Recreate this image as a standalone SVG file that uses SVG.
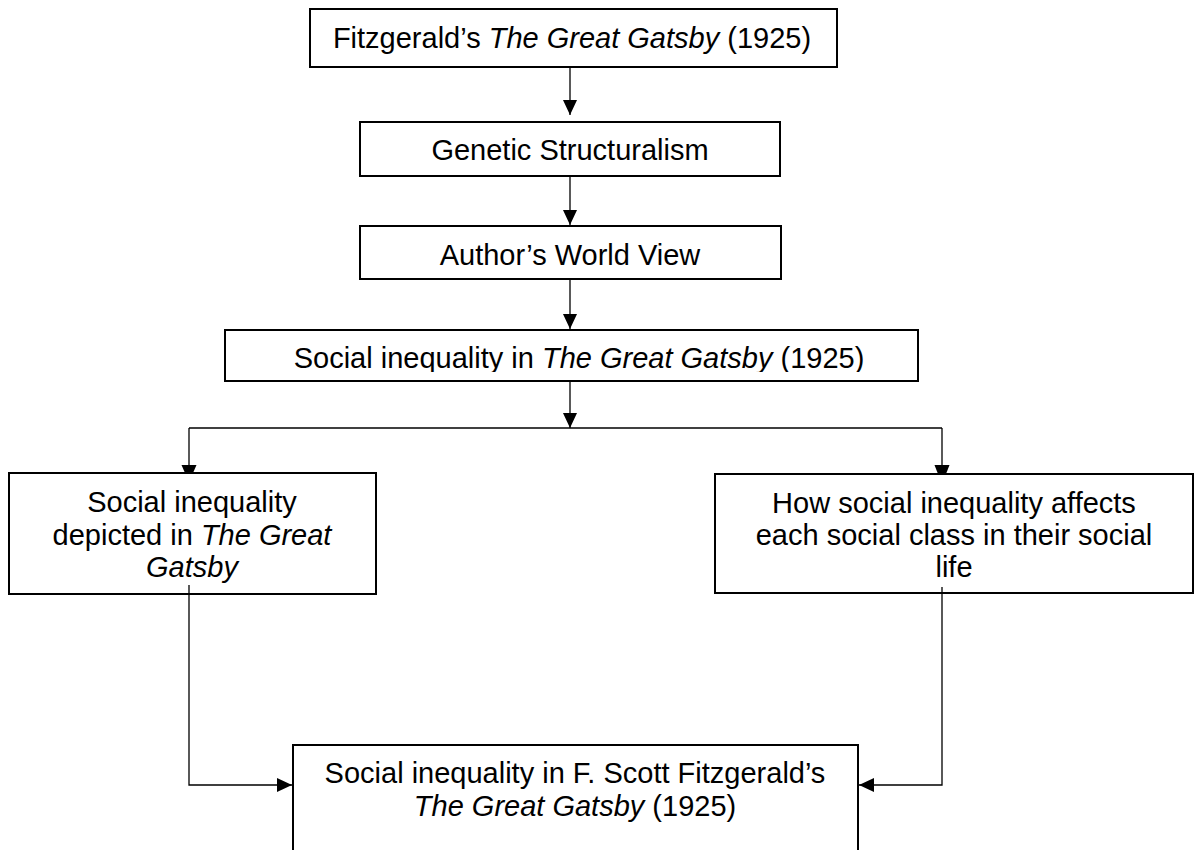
<svg xmlns="http://www.w3.org/2000/svg" width="1197" height="850" viewBox="0 0 1197 850">
  <style>
    .box { fill: #ffffff; stroke: #000000; stroke-width: 2; }
    .t { font-family: "Liberation Sans", Arial, sans-serif; font-size: 29px; fill: #000000; text-anchor: middle; }
    .i { font-style: italic; }
    .ln { fill: none; stroke: #000000; stroke-width: 1.3; }
    .head { fill: #000000; stroke: none; }
  </style>
  <defs>
    <marker id="arr" markerUnits="userSpaceOnUse" markerWidth="15" markerHeight="14" refX="15" refY="7" orient="auto">
      <path d="M0,0 L15,7 L0,14 z" fill="#000000"/>
    </marker>
    <clipPath id="clip4">
      <rect x="225" y="330" width="693" height="42"/>
    </clipPath>
  </defs>
  <rect width="1197" height="850" fill="#ffffff"/>

  <g id="n1">
    <rect class="box" x="310" y="9" width="527" height="58"/>
    <text class="t" x="572" y="48">Fitzgerald’s <tspan class="i">The Great Gatsby</tspan> (1925)</text>
  </g>
  <g id="n2">
    <rect class="box" x="360" y="122" width="420" height="54"/>
    <text class="t" x="570" y="160">Genetic Structuralism</text>
  </g>
  <g id="n3">
    <rect class="box" x="360" y="226" width="421" height="53"/>
    <text class="t" x="570" y="265">Author’s World View</text>
  </g>
  <g id="n4">
    <rect class="box" x="225" y="330" width="693" height="51"/>
    <text class="t" x="579" y="368" clip-path="url(#clip4)">Social inequality in <tspan class="i">The Great Gatsby</tspan> (1925)</text>
  </g>
  <g id="n5">
    <rect class="box" x="9" y="473" width="367" height="121"/>
    <text class="t" x="192" y="512">Social inequality</text>
    <text class="t" x="192" y="545">depicted in <tspan class="i">The Great</tspan></text>
    <text class="t i" x="192" y="577">Gatsby</text>
  </g>
  <g id="n6">
    <rect class="box" x="715" y="474" width="478" height="119"/>
    <text class="t" x="954" y="513">How social inequality affects</text>
    <text class="t" x="954" y="545">each social class in their social</text>
    <text class="t" x="954" y="577">life</text>
  </g>
  <g id="n7">
    <rect class="box" x="293" y="745" width="565" height="120"/>
    <text class="t" x="575" y="783">Social inequality in F. Scott Fitzgerald’s</text>
    <text class="t" x="575" y="816"><tspan class="i">The Great Gatsby</tspan> (1925)</text>
  </g>

  <g id="connectors">
    <line class="ln" x1="570" y1="68" x2="570" y2="115" marker-end="url(#arr)"/>
    <line class="ln" x1="570" y1="177" x2="570" y2="225" marker-end="url(#arr)"/>
    <line class="ln" x1="570" y1="280" x2="570" y2="329" marker-end="url(#arr)"/>
    <line class="ln" x1="570" y1="382" x2="570" y2="428" marker-end="url(#arr)"/>
    <line class="ln" x1="189" y1="428" x2="942" y2="428"/>
    <line class="ln" x1="189" y1="428" x2="189" y2="466"/>
    <polygon class="head" points="181.5,465 196.5,465 193,473 185,473"/>
    <line class="ln" x1="942" y1="428" x2="942" y2="466"/>
    <polygon class="head" points="934.5,465 949.5,465 946,474 938,474"/>
    <polyline class="ln" points="189,585 189,785 292,785" marker-end="url(#arr)"/>
    <polyline class="ln" points="942,587 942,785 859,785" marker-end="url(#arr)"/>
  </g>
</svg>
